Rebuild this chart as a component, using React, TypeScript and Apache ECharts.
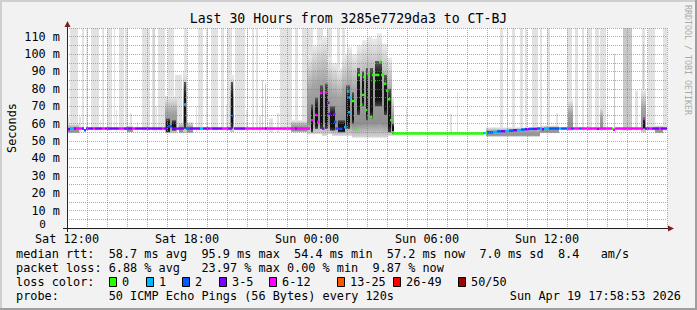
import React, { useEffect, useRef } from 'react';
import * as echarts from 'echarts';

const MONO = '"DejaVu Sans Mono", monospace';

// time axis: hours since Sat 12:00
const xTickHours = [0, 6, 12, 18, 24];
const xTickLabels = ['Sat 12:00', 'Sat 18:00', 'Sun 00:00', 'Sun 06:00', 'Sun 12:00'];
const yTickValues = [0, 10, 20, 30, 40, 50, 60, 70, 80, 90, 100, 110];
const yTickLabels = ['0', '10 m', '20 m', '30 m', '40 m', '50 m', '60 m', '70 m', '80 m', '90 m', '100 m', '110 m'];

const lossLabels = ['0', '1', '2', '3-5', '6-12', '13-25', '26-49', '50/50'];
const lossColors = ['#26ff00', '#00b8ff', '#0059ff', '#7e00ff', '#ff00ff', '#ff5500', '#ff0000', '#a10000'];

// median rtt (ms) step function: [hour, ms, loss class]
const medianSteps: [number, number | null, number][] = [
  [0.0, 56.8, 3], [0.15, 57.2, 1], [0.35, 57.2, 3], [0.45, 57.2, 4], [0.75, 57.2, 3], [0.85, 56.2, 2],
  [0.95, 57.2, 3], [1.3, 57.2, 4], [1.4, 57.2, 3], [1.75, 57.2, 4], [1.9, 57.2, 3], [2.6, 57.2, 4],
  [2.85, 57.2, 3], [3.25, 57.2, 4], [3.4, 57.2, 3], [4.75, 57.2, 4], [4.85, 57.2, 3], [5.05, 58.5, 2],
  [5.25, 57.2, 3], [5.5, 57.0, 2], [5.55, 57.2, 3], [5.85, 71.0, 1], [5.95, 57.2, 2], [6.15, 57.2, 3],
  [6.65, 57.2, 1], [6.8, 57.2, 3], [7.15, 57.2, 4], [7.25, 57.2, 3], [7.75, 57.2, 4], [8.0, 57.2, 3],
  [8.25, 64.4, 2], [8.35, 57.2, 3], [8.9, 57.2, 4], [9.9, 57.2, 3], [10.0, 57.2, 4], [11.4, 57.2, 3],
  [11.5, 57.2, 4], [12.15, null, 0],
  [16.3, 54.4, 0], [20.8, 54.5, 1], [20.9, 54.6, 0], [21.0, 55.0, 2], [21.3, 55.3, 1], [21.5, 55.5, 2],
  [21.7, 55.6, 3], [21.9, 55.8, 1], [22.1, 56.0, 2], [22.3, 56.2, 3], [22.5, 56.3, 1], [22.7, 56.6, 2],
  [22.9, 56.8, 3], [23.1, 57.0, 2], [23.3, 57.0, 3], [23.5, 57.2, 2], [23.65, 57.2, 1], [23.75, 56.8, 3],
  [23.85, 57.2, 1], [24.1, 57.2, 2], [24.6, 57.2, 1], [24.7, 57.2, 2], [25.0, 57.2, 4], [25.2, 57.2, 2],
  [25.35, 57.2, 4], [25.6, 57.2, 2], [25.7, 57.2, 4], [26.5, 57.0, 3], [26.6, 57.2, 4], [27.25, 57.2, 0],
  [27.3, 56.5, 4], [27.4, 57.2, 4], [28.8, 63.0, 4], [28.9, 57.2, 3], [29.1, 57.2, 4], [29.25, 57.2, 3],
  [29.6, 57.2, 4], [29.7, 57.2, 3],
];

// isolated median readings during the unstable period: [hour, ms, loss class]
const medianDots: [number, number, number][] = [
  [12.2, 62, 4], [12.4, 65, 4], [12.5, 61, 4], [12.65, 77.6, 4], [12.75, 57.2, 3], [12.9, 78, 4],
  [13.0, 72, 3], [13.07, 65.6, 3], [13.3, 65.5, 3], [13.35, 61, 2], [13.42, 57.2, 2], [13.55, 57, 3],
  [13.65, 57, 2], [13.85, 58, 1], [14.0, 78.5, 1], [14.05, 66.6, 1], [14.07, 75, 1], [14.25, 73, 0],
  [14.4, 57.2, 0], [14.55, 88, 0], [14.65, 71, 0], [14.75, 76.5, 0], [14.8, 86.8, 0], [14.9, 67.8, 0],
  [15.0, 88.6, 0], [15.15, 63.8, 0], [15.25, 88, 0], [15.3, 84.5, 0], [15.4, 88, 0], [15.5, 88, 0],
  [15.6, 95.4, 0], [15.7, 88, 0], [15.75, 88.6, 0], [15.85, 83, 0], [15.95, 79, 0], [16.05, 74, 0],
  [16.15, 62, 0], [16.25, 55, 0],
];

// light smoke columns: [hourStart, hourEnd, lowMs, highMs]
const lightColumns: [number, number, number, number][] = [
  [0.15, 0.55, 56, 115], [0.75, 0.85, 56, 115], [1.2, 1.6, 56, 115], [2.0, 2.25, 56, 115],
  [2.35, 2.4, 56, 115], [2.6, 2.85, 56, 115], [2.9, 3.05, 56, 115], [3.15, 3.25, 56, 66],
  [3.75, 4.15, 56, 115], [4.25, 4.4, 56, 115], [4.55, 4.9, 56, 115], [5.05, 5.35, 56, 115],
  [5.4, 5.75, 56, 88], [5.85, 6.0, 56, 115], [6.55, 6.8, 56, 115], [6.95, 7.05, 56, 115],
  [7.2, 7.55, 56, 115], [7.7, 7.85, 56, 115], [8.0, 8.25, 56, 115], [8.4, 8.9, 56, 115],
  [9.0, 9.05, 56, 115], [9.25, 9.35, 56, 115], [9.45, 9.55, 56, 115], [10.65, 11.25, 56, 115],
  [11.4, 11.55, 56, 115], [11.75, 12.3, 56, 115], [12.5, 12.8, 56, 115], [13.0, 13.25, 56, 115],
  [13.5, 13.65, 56, 115], [13.75, 13.9, 56, 115],
  [0.05, 0.12, 55, 64], [0.6, 0.7, 55, 64], [1.65, 1.7, 55, 62], [2.45, 2.5, 55, 68],
  [3.5, 3.55, 55, 61], [4.42, 4.5, 55, 70], [6.45, 6.5, 55, 70], [7.95, 8.0, 55, 71],
  [8.95, 9.0, 55, 68], [9.6, 9.7, 55, 65], [10.1, 10.3, 55, 63], [10.5, 10.6, 55, 66],
  [11.3, 11.4, 55, 62],
  [16.95, 17.0, 54, 69.6], [19.15, 19.25, 54, 65.7], [19.5, 19.55, 54, 78],
  [21.65, 21.8, 55, 115], [22.0, 22.05, 55, 115], [22.25, 22.4, 55, 115], [22.65, 22.8, 55, 115],
  [22.9, 23.0, 55, 115], [23.25, 23.55, 55, 115],
  [23.65, 23.75, 56, 115], [24.0, 24.15, 56, 115], [24.45, 24.55, 56, 66], [25.0, 25.25, 56, 115],
  [25.4, 25.55, 56, 115], [25.75, 25.85, 56, 115], [26.0, 26.25, 56, 115], [26.4, 26.6, 56, 115],
  [26.65, 26.95, 56, 115], [28.4, 28.55, 56, 79], [28.75, 28.9, 56, 115],
  [29.05, 29.4, 56, 115], [29.8, 30.0, 56, 115],
];

// darker smoke streaks: [hourStart, hourEnd, lowMs, highMs]
const midColumns: [number, number, number, number][] = [
  [0.98, 1.03, 56, 115], [1.78, 1.83, 56, 115], [4.33, 4.38, 56, 115], [9.75, 9.8, 56, 85],
  [9.9, 9.95, 56, 83], [27.35, 27.4, 56, 100], [27.8, 28.25, 56, 115], [27.98, 28.03, 56, 115],
  [28.8, 28.85, 56, 106],
];

// grey smoke around the median: [hourStart, hourEnd, lowMs, highMs]
const greySmoke: [number, number, number, number][] = [
  [0.0, 0.6, 54.5, 60], [3.0, 3.3, 55, 59], [4.9, 5.5, 54.5, 76], [5.6, 6.3, 54.5, 61],
  [5.8, 6.0, 55, 90], [8.15, 8.35, 55, 88], [11.2, 12.0, 55, 62],
  [12.0, 12.25, 54, 100], [12.25, 12.5, 54, 105], [12.5, 12.75, 54, 108], [12.75, 13.0, 53, 110],
  [13.0, 13.25, 54, 98], [13.25, 13.5, 53, 95], [13.5, 13.75, 53, 92], [13.75, 14.0, 53, 100],
  [14.0, 14.25, 53, 104], [14.25, 14.5, 52, 100], [14.5, 14.75, 52, 105], [14.75, 15.0, 52, 108],
  [15.0, 15.25, 52, 110], [15.25, 15.5, 52, 109], [15.5, 15.75, 52, 112], [15.75, 16.0, 52, 106],
  [16.0, 16.25, 53, 98], [16.25, 16.35, 53, 75],
  [20.95, 23.65, 52.5, 58], [23.65, 24.6, 54.5, 59], [25.05, 25.3, 56, 74], [26.65, 26.8, 56, 70],
  [28.7, 28.95, 55, 80], [29.4, 29.8, 54.5, 59],
];

// dense core of the smoke: [hourStart, hourEnd, lowMs, highMs]
const coreSmoke: [number, number, number, number][] = [
  [4.95, 5.15, 55, 63], [5.25, 5.45, 56, 62], [5.85, 5.95, 57, 84], [8.2, 8.3, 57, 84],
  [12.2, 12.3, 55, 71], [12.4, 12.55, 57, 75], [12.65, 12.8, 57, 82], [12.9, 13.05, 57, 83],
  [13.15, 13.4, 56, 70], [13.55, 13.9, 55, 62], [13.95, 14.15, 57, 82], [14.25, 14.35, 60, 78],
  [14.5, 14.65, 65, 92], [14.75, 14.85, 70, 90], [14.95, 15.05, 62, 92], [15.15, 15.3, 63, 92],
  [15.4, 15.75, 70, 96], [15.85, 16.0, 65, 88], [16.05, 16.2, 55, 80], [16.25, 16.35, 54, 60],
  [28.8, 28.9, 57, 63],
];

const title = 'Last 30 Hours from 3285e7729da3 to CT-BJ';
const yAxisName = 'Seconds';
const watermark = 'RRDTOOL / TOBI OETIKER';
const statsRtt = ['median rtt:', '58.7 ms avg', '95.9 ms max', '54.4 ms min', '57.2 ms now', '7.0 ms sd', '8.4', 'am/s'];
const statsLoss = ['packet loss:', '6.88 % avg', '23.97 % max', '0.00 % min', '9.87 % now'];
const lossTitle = 'loss color:';
const probeLabel = 'probe:';
const probeText = '50 ICMP Echo Pings (56 Bytes) every 120s';
const stamp = 'Sun Apr 19 17:58:53 2026';

// layout
const rttCols = [0, 13, 26, 39, 52, 65, 76, 82];
const lossCols = [0, 13, 26, 38, 50];
const boxX = [109, 146, 182, 219, 269, 337, 393, 458];
const CW = 7.13;
const LX = 16;
const FONT = `11.85px ${MONO}`;

const MAJOR = 'rgba(222,79,79,0.6)';
const MINOR = 'rgba(143,143,143,0.75)';

function txt(text: string, x: number, y: number, extra: any = {}) {
  const align = extra.align || 'left';
  return {
    type: 'text', x, y, silent: true, z: 20,
    rotation: extra.rotation || 0,
    style: {
      text, fill: extra.fill || '#000', font: extra.font || FONT,
      textAlign: align, align, textVerticalAlign: 'middle', verticalAlign: 'middle',
    },
  };
}

function bandRender(fill: () => any) {
  return (_p: any, api: any) => {
    const a = api.coord([api.value(0), api.value(3)]);
    const b = api.coord([api.value(1), api.value(2)]);
    return {
      type: 'rect',
      shape: { x: a[0], y: a[1], width: Math.max(b[0] - a[0], 1), height: Math.max(b[1] - a[1], 1) },
      style: { fill: fill() },
    };
  };
}

export default function App() {
  const ref = useRef<HTMLDivElement>(null);
  useEffect(() => {
    if (!ref.current) return;
    const chart = echarts.init(ref.current, undefined, { renderer: 'svg' });

    const medianSegments = medianSteps
      .map((s, i) => [s[0], i + 1 < medianSteps.length ? medianSteps[i + 1][0] : 30, s[1], s[2]])
      .filter((s) => s[2] !== null);

    const greyFill = () => new echarts.graphic.LinearGradient(0, 0, 0, 1, [
      { offset: 0, color: '#ececec' }, { offset: 0.45, color: '#a4a4a4' },
      { offset: 0.85, color: '#909090' }, { offset: 1, color: '#d6d6d6' },
    ]);
    const coreFill = () => new echarts.graphic.LinearGradient(0, 0, 0, 1, [
      { offset: 0, color: '#5a5a5a' }, { offset: 0.3, color: '#161616' },
      { offset: 0.85, color: '#111111' }, { offset: 1, color: '#454545' },
    ]);

    const graphics: any[] = [
      { type: 'rect', shape: { x: 0, y: 0, width: 697, height: 2 }, style: { fill: '#cfcfcf' }, silent: true },
      { type: 'rect', shape: { x: 0, y: 0, width: 2, height: 310 }, style: { fill: '#cfcfcf' }, silent: true },
      { type: 'rect', shape: { x: 0, y: 308, width: 697, height: 2 }, style: { fill: '#9e9e9e' }, silent: true },
      { type: 'rect', shape: { x: 695, y: 0, width: 2, height: 310 }, style: { fill: '#9e9e9e' }, silent: true },
      txt(title, 348.5, 18, { align: 'center', font: `13.2px ${MONO}` }),
      txt(yAxisName, 12, 128, { align: 'center', rotation: Math.PI / 2 }),
      txt(watermark, 688, 5, { rotation: -Math.PI / 2, fill: '#aaaaaa', font: `8.3px ${MONO}` }),
      { type: 'line', z: 20, silent: true, shape: { x1: 67.5, y1: 232, x2: 67.5, y2: 25 }, style: { stroke: '#3a1f1f', lineWidth: 1 } },
      { type: 'line', z: 20, silent: true, shape: { x1: 63, y1: 228.5, x2: 669, y2: 228.5 }, style: { stroke: '#1f1f1f', lineWidth: 1 } },
      { type: 'polygon', z: 21, silent: true, shape: { points: [[64.5, 27], [70.5, 27], [67.5, 21]] }, style: { fill: '#801f1f' } },
      { type: 'polygon', z: 21, silent: true, shape: { points: [[668, 225.5], [668, 231.5], [674, 228.5]] }, style: { fill: '#801f1f' } },
    ];
    statsRtt.forEach((t, i) => graphics.push(txt(t, LX + rttCols[i] * CW, 254)));
    statsLoss.forEach((t, i) => graphics.push(txt(t, LX + lossCols[i] * CW, 268)));
    graphics.push(txt(lossTitle, LX, 282));
    lossLabels.forEach((t, i) => {
      graphics.push({ type: 'rect', z: 20, silent: true, shape: { x: boxX[i] + 0.5, y: 277.5, width: 7, height: 9 }, style: { fill: lossColors[i], stroke: '#000', lineWidth: 1 } });
      graphics.push(txt(t, boxX[i] + 13, 282));
    });
    graphics.push(txt(probeLabel, LX, 296));
    graphics.push(txt(probeText, LX + 13 * CW, 296));
    graphics.push(txt(stamp, 681, 296, { align: 'right' }));

    chart.setOption({
      animation: false,
      backgroundColor: '#f2f2f2',
      grid: { left: 67, top: 28, width: 600, height: 200, show: true, backgroundColor: '#ffffff', borderWidth: 0, containLabel: false, outerBoundsMode: 'none' },
      xAxis: {
        type: 'value', min: 0, max: 30, interval: 1, z: 3,
        axisLine: { show: false }, axisTick: { show: false },
        axisLabel: {
          formatter: (v: number) => { const i = xTickHours.indexOf(v); return i >= 0 ? xTickLabels[i] : ''; },
          color: '#000', fontFamily: MONO, fontSize: 11.85, lineHeight: 11, margin: 5, hideOverlap: false,
        },
        splitLine: { show: true, showMinLine: true, showMaxLine: true, lineStyle: { color: [MAJOR, MINOR, MINOR], type: [1, 1], width: 1 } },
      },
      yAxis: {
        type: 'value', min: 0, max: 115, interval: 5, z: 3,
        axisLine: { show: false }, axisTick: { show: false },
        axisLabel: {
          formatter: (v: number) => {
            const i = yTickValues.indexOf(v);
            if (i < 0) return '';
            return v === 0 ? '{z|' + yTickLabels[i] + '}' : yTickLabels[i];
          },
          rich: { z: { padding: [0, 14.2, 7, 0], lineHeight: 9, fontFamily: MONO, fontSize: 11, color: '#000' } },
          color: '#000', fontFamily: MONO, fontSize: 11.85, margin: 7,
        },
        splitLine: { show: true, lineStyle: { color: [MAJOR, MINOR], type: [1, 1], width: 1 } },
      },
      series: [
        { type: 'custom', name: 'light', data: lightColumns, renderItem: bandRender(() => '#e2e2e2'), clip: true, silent: true },
        { type: 'custom', name: 'mid', data: midColumns, renderItem: bandRender(() => '#c8c8c8'), clip: true, silent: true },
        { type: 'custom', name: 'smoke', data: greySmoke, renderItem: bandRender(greyFill), clip: true, silent: true },
        { type: 'custom', name: 'core', data: coreSmoke, renderItem: bandRender(coreFill), clip: true, silent: true },
        {
          type: 'custom', name: 'median', data: medianSegments, clip: true, silent: true,
          renderItem: (_p: any, api: any) => {
            const a = api.coord([api.value(0), api.value(2)]);
            const b = api.coord([api.value(1), api.value(2)]);
            return { type: 'rect', shape: { x: a[0], y: a[1] - 1.25, width: b[0] - a[0], height: 2.5 }, style: { fill: lossColors[api.value(3)] } };
          },
        },
        {
          type: 'custom', name: 'medianDots', data: medianDots, clip: true, silent: true,
          renderItem: (_p: any, api: any) => {
            const a = api.coord([api.value(0), api.value(1)]);
            return { type: 'rect', shape: { x: a[0], y: a[1] - 1.25, width: 2.4, height: 2.5 }, style: { fill: lossColors[api.value(2)] } };
          },
        },
      ],
      graphic: { elements: graphics },
    });
    return () => chart.dispose();
  }, []);
  return <div ref={ref} style={{ position: 'absolute', left: 0, top: 0, width: 697, height: 310 }} />;
}
